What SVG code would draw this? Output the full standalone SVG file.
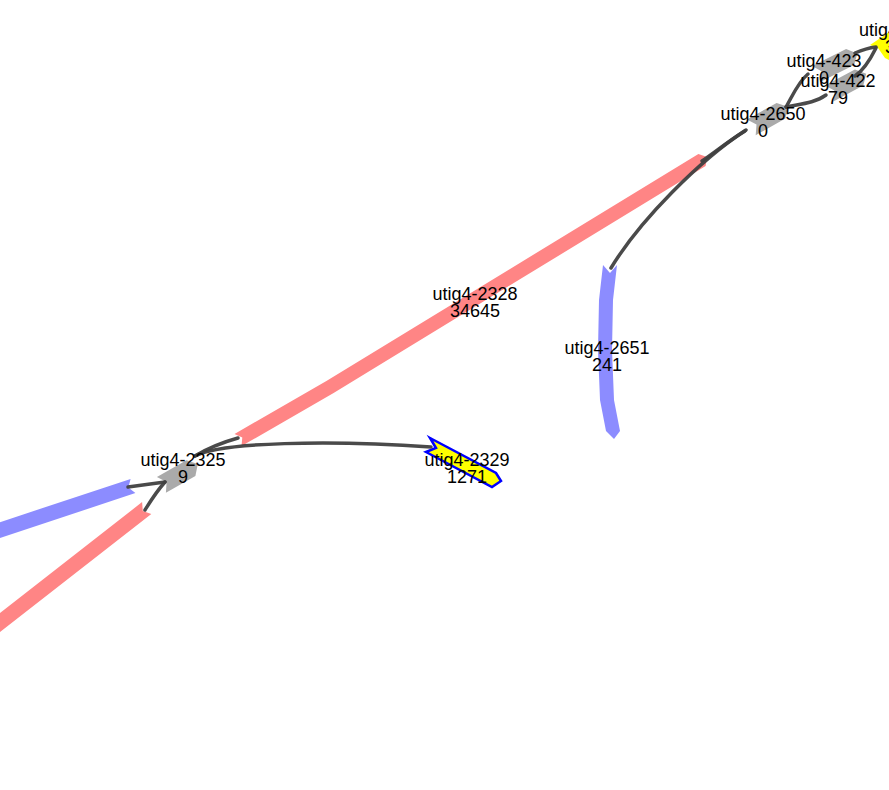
<svg xmlns="http://www.w3.org/2000/svg" width="889" height="790" viewBox="0 0 889 790">
<style>
.red{fill:#ff8585}
.blue{fill:#8c8cff}
.gray{fill:#aaaaaa}
.yel{fill:#ffff00}
.sel{fill:#ffff00;stroke:#0000ff;stroke-width:2.5;stroke-linejoin:miter}
.edge{fill:none;stroke:#404040;stroke-width:3.5;stroke-linecap:round;stroke-opacity:0.95}
text{font-family:"Liberation Sans",Arial,Helvetica,sans-serif;font-size:18px;fill:#000;text-anchor:middle}
</style>
<rect width="889" height="790" fill="#ffffff"/>
<g id="node-utig4-2328"><polygon class="red" points="234.5,434 326.4,381 698.4,154 707.1,156.9 705.6,166 333.6,393 241.5,446.1 242.3,437.5"/></g>
<g id="node-red-left"><polygon class="red" points="142.1,502.1 142.8,511.1 151.3,513.9 -15.4,643.9 -24.6,632.1"/></g>
<g id="node-blue-left"><polygon class="blue" points="130.6,478.9 128.3,487.6 135.4,493.1 -17.4,543.7 -22.2,529.5"/></g>
<g id="node-utig4-2651"><polygon class="blue" points="603,265 610,273 617,265 613,300 612,350 614,400 620,431 614,439 606,431 600,400 598,350 599,300"/></g>
<g id="node-utig4-2325"><polygon class="gray" points="156.9,477.1 166.6,481.9 165.9,492.7 195.4,475.9 197.8,464.1 186.4,460.3"/></g>
<g id="node-utig4-2650"><polygon class="gray" points="746.9,119.5 756.5,124.4 755.7,135.2 785.4,118.6 788,106.8 776.6,102.9"/></g>
<g id="node-utig4-423"><polygon class="gray" points="812.1,65.9 821.5,71.2 820.1,81.9 854.1,65 857.3,53.4 846.1,49"/></g>
<g id="node-utig4-422"><polygon class="gray" points="824.9,85.5 834.4,90.6 833.3,101.4 863.3,85.5 866.2,73.8 854.9,69.5"/></g>
<g id="node-top-right"><polygon class="yel" points="870,45 882,37 889,32 889,60 885,58 878,48"/></g>
<g id="node-utig4-2329"><polygon class="sel" points="430,438 496,473 501,481 492,487 426,452 436,448"/></g>
<g id="connectors">
<path class="edge" d="M195,456 C205,450 220,443 238,438"/>
<path class="edge" d="M195,456 C220,442 330,440 431,447"/>
<path class="edge" d="M128,487 C136,486 150,484 165,482"/>
<path class="edge" d="M145,510 C150,502 156,492 165,482"/>
<path class="edge" d="M702,161 C715,152 730,140 745,131"/>
<path class="edge" d="M746,130 C700,160 640,220 611,268"/>
<path class="edge" d="M786,107 C792,97 798,82 808,74"/>
<path class="edge" d="M786,107 C800,104 815,103 826,95"/>
<path class="edge" d="M855,53 C862,50 868,48 876,47"/>
<path class="edge" d="M855,76 C864,70 870,60 876,48"/>
</g>
<g id="labels">
<text x="475" y="299.5">utig4-2328</text><text x="475" y="316.5">34645</text>
<text x="607" y="353.5">utig4-2651</text><text x="607" y="370.5">241</text>
<text x="183" y="465.5">utig4-2325</text><text x="183" y="482.5">9</text>
<text x="467" y="466">utig4-2329</text><text x="467" y="483">1271</text>
<text x="763" y="120">utig4-2650</text><text x="763" y="137">0</text>
<text x="824" y="67">utig4-423</text><text x="824" y="84">0</text>
<text x="838" y="87">utig4-422</text><text x="838" y="104">79</text>
<text x="859" y="36" style="text-anchor:start">utig4-4</text><text x="885" y="53" style="text-anchor:start">3</text>
</g>
</svg>
